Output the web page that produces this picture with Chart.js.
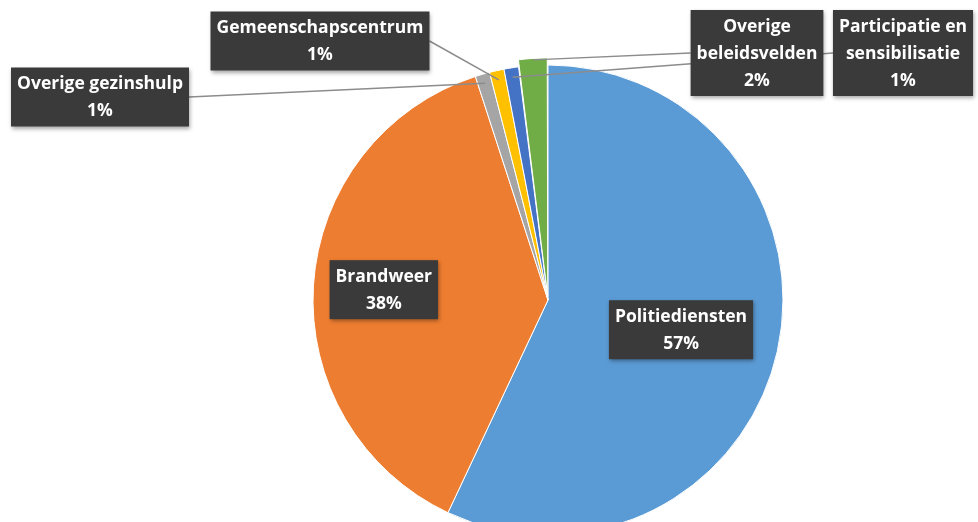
<!DOCTYPE html>
<html>
<head>
<meta charset="utf-8">
<script src="https://cdn.jsdelivr.net/npm/chart.js@4/dist/chart.umd.min.js"></script>
<style>
  html, body { margin: 0; padding: 0; background: #fff; overflow: hidden; }
  #wrap { position: relative; width: 978px; height: 543px; }
</style>
</head>
<body>
<div id="wrap"><canvas id="pieChart"></canvas></div>
<script>
// data
var categories = [
    "Politiediensten",
    "Brandweer",
    "Overige gezinshulp",
    "Gemeenschapscentrum",
    ["Participatie en", "sensibilisatie"],
    ["Overige", "beleidsvelden"]
];
var shares = [57, 38, 1, 1, 1, 2];
var colors = ["#5B9BD5", "#ED7D31", "#A5A5A5", "#FFC000", "#4472C4", "#70AD47"];

// where each label box goes: inside the slice (radius fraction) or outside (offset from pie centre)
var labelPlace = [
    { inside: 0.58 },
    { inside: 0.7 },
    { dx: -448, dy: -203 },
    { dx: -228, dy: -259 },
    { dx: 355, dy: -247 },
    { dx: 209, dy: -247 }
];

var boxLabels = {
    id: "boxLabels",
    afterDatasetsDraw: function (chart) {
        var ctx = chart.ctx;
        var meta = chart.getDatasetMeta(0);
        var total = shares.reduce(function (a, b) { return a + b; }, 0);
        var lineH = 27;
        ctx.save();
        ctx.font = "bold 17.5px 'Open Sans'";
        ctx.textAlign = "center";
        ctx.textBaseline = "middle";

        var boxes = meta.data.map(function (arc, i) {
            var p = arc.getProps(["x", "y", "startAngle", "endAngle", "outerRadius"], true);
            var mid = (p.startAngle + p.endAngle) / 2;
            var off = arc.options.offset || 0;
            var lines = [].concat(categories[i]);
            lines.push(Math.round(shares[i] / total * 100) + "%");
            var w = Math.max.apply(null, lines.map(function (t) { return ctx.measureText(t).width; })) + 12;
            var h = lines.length * lineH + 5;
            var pl = labelPlace[i], cx, cy, anchor = null;
            if (pl.inside) {
                cx = p.x + Math.cos(mid) * p.outerRadius * pl.inside;
                cy = p.y + Math.sin(mid) * p.outerRadius * pl.inside;
            } else {
                cx = p.x + pl.dx;
                cy = p.y + pl.dy;
                var r = p.outerRadius * 0.96 + off;
                anchor = { x: p.x + Math.cos(mid) * r, y: p.y + Math.sin(mid) * r };
            }
            return { cx: cx, cy: cy, w: w, h: h, lines: lines, anchor: anchor };
        });

        // leader lines first, boxes drawn over them
        ctx.strokeStyle = "#8c8c8c";
        ctx.lineWidth = 1.5;
        boxes.forEach(function (b) {
            if (!b.anchor) return;
            var sx = b.anchor.x > b.cx ? b.cx + b.w / 2 : b.cx - b.w / 2;
            ctx.beginPath();
            ctx.moveTo(sx, b.cy);
            ctx.lineTo(b.anchor.x, b.anchor.y);
            ctx.stroke();
        });

        boxes.forEach(function (b) {
            ctx.save();
            ctx.shadowColor = "rgba(0,0,0,0.35)";
            ctx.shadowBlur = 4;
            ctx.shadowOffsetX = 1;
            ctx.shadowOffsetY = 2;
            ctx.fillStyle = "#3a3a3a";
            ctx.fillRect(b.cx - b.w / 2, b.cy - b.h / 2, b.w, b.h);
            ctx.restore();
            ctx.fillStyle = "#ffffff";
            var top = b.cy - (b.lines.length - 1) * lineH / 2;
            b.lines.forEach(function (t, k) {
                ctx.fillText(t, b.cx, top + k * lineH + 1);
            });
        });
        ctx.restore();
    }
};

var ctx = document.getElementById("pieChart").getContext("2d");
var myChart = new Chart(ctx, {
    type: "pie",
    data: {
        labels: categories,
        datasets: [{
            data: shares,
            backgroundColor: colors,
            borderColor: "#ffffff",
            borderWidth: 1,
            offset: [0, 0, 0, 0, 0, 15]
        }]
    },
    options: {
        responsive: true,
        maintainAspectRatio: false,
        animation: false,
        layout: { padding: { left: 118, right: 0, top: 57, bottom: 0 } },
        plugins: {
            legend: { display: false },
            tooltip: { enabled: false }
        }
    },
    plugins: [boxLabels]
});
</script>
</body>
</html>
